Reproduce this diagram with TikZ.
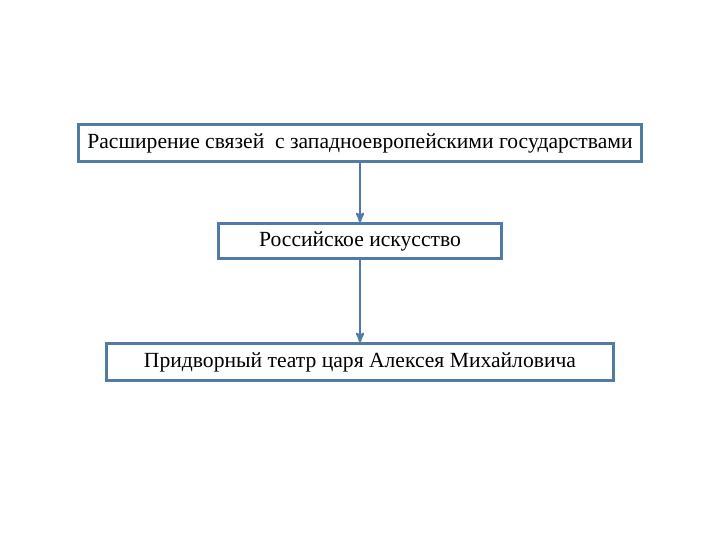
\documentclass[tikz,border=0pt]{standalone}
\usepackage{fontspec}
\setmainfont{Liberation Serif}
\usetikzlibrary{arrows}
\definecolor{boxblue}{RGB}{80,122,168}

\begin{document}
\begin{tikzpicture}[x=1pt,y=1pt,->,>=stealth',thick,
main node/.style={rectangle,draw=boxblue,line width=2.4pt,fill=white,font=\fontsize{21.6}{24}\selectfont,inner sep=0pt,minimum height=37pt}]
\useasboundingbox (0,0) rectangle (720,540);

% three boxes
  \node[main node,minimum width=563pt] (ties) at (360,397) {Расширение связей~~с западноевропейскими государствами};
  \node[main node,minimum width=283pt,minimum height=35pt] (art) at (360,299) {Российское искусство};
  \node[main node,minimum width=507pt] (theatre) at (360,178) {Придворный театр царя Алексея Михайловича};

  \path[draw=boxblue,line width=2.2pt]
    (ties) edge (art)
    (art) edge (theatre);

\end{tikzpicture}
\end{document}
